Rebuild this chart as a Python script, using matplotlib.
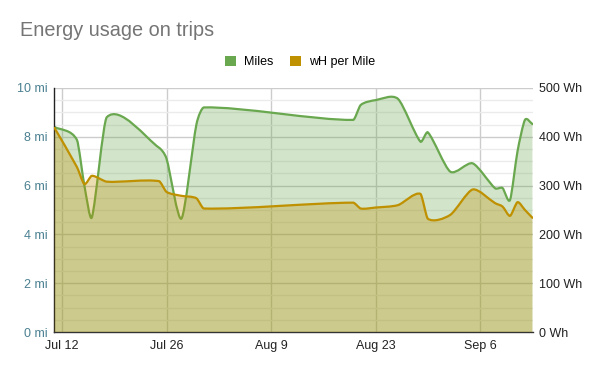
import matplotlib
matplotlib.use("Agg")
import matplotlib.pyplot as plt
import matplotlib.dates as mdates
from matplotlib.path import Path
from matplotlib.patches import PathPatch, Patch
from matplotlib.ticker import FixedLocator, MultipleLocator
import numpy as np
import pandas as pd

plt.rcParams['font.family'] = ['Liberation Sans', 'DejaVu Sans']

dates = ["2020-07-11", "2020-07-14", "2020-07-15", "2020-07-16", "2020-07-18",
         "2020-07-25", "2020-07-26", "2020-07-28", "2020-07-30", "2020-07-31",
         "2020-08-20", "2020-08-21", "2020-08-23", "2020-08-26", "2020-08-29",
         "2020-08-30", "2020-09-02", "2020-09-05", "2020-09-08", "2020-09-09",
         "2020-09-10", "2020-09-11", "2020-09-12", "2020-09-13"]
miles = [8.4, 7.87, 6.0, 4.7, 8.8,
         7.55, 7.1, 4.65, 8.5, 9.2,
         8.69, 9.3, 9.5, 9.55, 7.8,
         8.18, 6.57, 6.91, 5.89, 5.9,
         5.41, 7.4, 8.69, 8.52]
wh_per_mile = [418, 338, 303, 320, 308,
               309, 287, 279, 274, 253,
               265, 253, 255, 260, 283,
               232, 240, 292, 264, 257,
               238, 266, 250, 234]
tick_labels = ["Jul 12", "Jul 26", "Aug 9", "Aug 23", "Sep 6"]
tick_dates = ["2020-07-12", "2020-07-26", "2020-08-09", "2020-08-23", "2020-09-06"]

GREEN = "#6aa84f"
GOLD = "#bf9000"

x = mdates.date2num(pd.to_datetime(dates))


def smooth_path(xs, ys, closed_base=None, k=0.75):
    xs = np.asarray(xs, float)
    ys = np.asarray(ys, float)
    n = len(xs)
    m = np.zeros(n)
    for i in range(n):
        if i == 0:
            m[i] = (ys[1] - ys[0]) / (xs[1] - xs[0])
        elif i == n - 1:
            m[i] = (ys[-1] - ys[-2]) / (xs[-1] - xs[-2])
        else:
            m[i] = (ys[i + 1] - ys[i - 1]) / (xs[i + 1] - xs[i - 1])
    verts = [(xs[0], ys[0])]
    codes = [Path.MOVETO]
    for i in range(n - 1):
        dx = xs[i + 1] - xs[i]
        verts += [(xs[i] + k * dx / 3, ys[i] + k * m[i] * dx / 3),
                  (xs[i + 1] - k * dx / 3, ys[i + 1] - k * m[i + 1] * dx / 3),
                  (xs[i + 1], ys[i + 1])]
        codes += [Path.CURVE4] * 3
    if closed_base is not None:
        verts += [(xs[-1], closed_base), (xs[0], closed_base), (xs[0], ys[0])]
        codes += [Path.LINETO, Path.LINETO, Path.CLOSEPOLY]
    return Path(verts, codes)


fig = plt.figure(figsize=(6, 3.71), dpi=100)
ax = fig.add_axes([0.09, 0.105, 0.798, 0.658])
ax2 = ax.twinx()

# grid
ax.set_axisbelow(True)
ax.yaxis.set_major_locator(MultipleLocator(2))
ax.yaxis.set_minor_locator(MultipleLocator(0.5))
ax.grid(True, which='major', axis='y', color='#cccccc', lw=1)
ax.grid(True, which='minor', axis='y', color='#ebebeb', lw=1)
ax.grid(True, which='major', axis='x', color='#cccccc', lw=1)

# Miles
ax.add_patch(PathPatch(smooth_path(x, miles, 0), facecolor=GREEN, alpha=0.3, lw=0))
ax.add_patch(PathPatch(smooth_path(x, miles), facecolor='none', edgecolor=GREEN, lw=1.6,
                       capstyle='round', joinstyle='round'))
# wH per mile
ax2.add_patch(PathPatch(smooth_path(x, wh_per_mile, 0), facecolor=GOLD, alpha=0.3, lw=0))
ax2.add_patch(PathPatch(smooth_path(x, wh_per_mile), facecolor='none', edgecolor=GOLD, lw=1.6,
                        capstyle='round', joinstyle='round'))

ax.set_xlim(x[0] - 0.07, x[-1] + 0.05)
ax.set_ylim(0, 10)
ax2.set_ylim(0, 500)
ax2.set_yticks(range(0, 501, 100))
ax2.set_yticklabels([f"{v} Wh" for v in range(0, 501, 100)])
ax.set_yticks(range(0, 11, 2))
ax.set_yticklabels([f"{v} mi" for v in range(0, 11, 2)])

tx = mdates.date2num(pd.to_datetime(tick_dates))
ax.xaxis.set_major_locator(FixedLocator(tx))
ax.set_xticklabels(tick_labels)

ax.tick_params(axis='y', which='both', length=0, labelsize=9, labelcolor='#4a8090', pad=4.5)
ax.tick_params(axis='x', length=0, labelsize=9, labelcolor='#222222', pad=6)
ax2.tick_params(axis='y', length=0, labelsize=9, labelcolor='#222222', pad=4.5)

for a in (ax, ax2):
    a.spines['top'].set_visible(False)
    a.spines['right'].set_visible(False)
ax2.spines['left'].set_visible(False)
ax2.spines['bottom'].set_visible(False)
ax.spines['left'].set_color('#222222')
ax.spines['bottom'].set_color('#333333')
ax.spines['left'].set_linewidth(1)
ax.spines['bottom'].set_linewidth(1)

fig.text(19.5 / 600, 1 - 31 / 371, "Energy usage on trips", fontsize=14.3, color='#757575',
         va='center', ha='left')

handles = [Patch(facecolor=GREEN, edgecolor='none'), Patch(facecolor=GOLD, edgecolor='none')]
fig.legend(handles, ["Miles", "wH per Mile"], loc='center', bbox_to_anchor=(0.5, 1 - 62 / 371),
           ncol=2, frameon=False, fontsize=9, handlelength=0.9, handleheight=0.9,
           handletextpad=0.6, columnspacing=1.35)

fig.savefig("out.png", dpi=100)
